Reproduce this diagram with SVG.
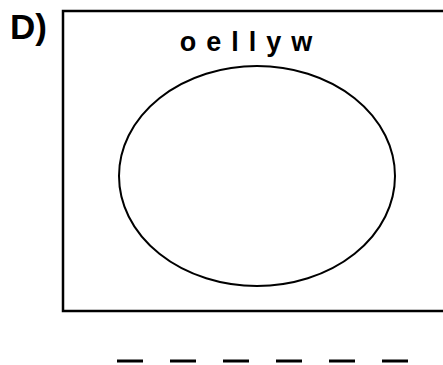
<svg xmlns="http://www.w3.org/2000/svg" width="443" height="365" viewBox="0 0 443 365">
<style>
.ln{fill:none;stroke:#000;stroke-width:2.5}
.el{fill:none;stroke:#000;stroke-width:2}
.dash{stroke:#000;stroke-width:3}
.t{font-family:"Liberation Sans",Arial,sans-serif;font-weight:bold;fill:#000}
</style>
<rect width="443" height="365" fill="#fff"/>
<g id="label"><text class="t" x="10" y="39" font-size="35">D)</text></g>
<g id="box"><rect class="ln" x="63" y="11" width="400" height="300"/></g>
<g id="title"><text class="t" x="251" y="51" font-size="27" letter-spacing="10" text-anchor="middle">oellyw</text></g>
<g id="ellipse"><ellipse class="el" cx="257" cy="176" rx="138" ry="110"/></g>
<g id="blanks">
<line class="dash" x1="117" y1="361" x2="143" y2="361"/>
<line class="dash" x1="170" y1="361" x2="196" y2="361"/>
<line class="dash" x1="223" y1="361" x2="249" y2="361"/>
<line class="dash" x1="276" y1="361" x2="302" y2="361"/>
<line class="dash" x1="329" y1="361" x2="355" y2="361"/>
<line class="dash" x1="382" y1="361" x2="408" y2="361"/>
</g>
</svg>
